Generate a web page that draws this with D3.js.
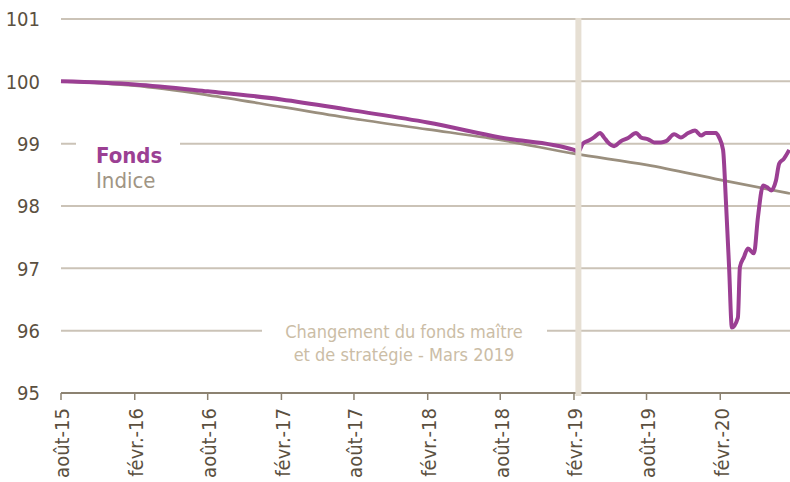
<!DOCTYPE html>
<html>
<head>
<meta charset="utf-8">
<script src="https://cdn.jsdelivr.net/npm/d3@7"></script>
<style>
  body { margin: 0; background: #fff; }
  svg { display: block; font-family: Tahoma, "DejaVu Sans Condensed", "DejaVu Sans", sans-serif; }
</style>
</head>
<body>
<svg id="chart" width="790" height="482"></svg>
<script>
// x axis ticks
const tickDates = ["2015-08-01", "2016-02-01", "2016-08-01", "2017-02-01", "2017-08-01",
  "2018-02-01", "2018-08-01", "2019-02-01", "2019-08-01", "2020-02-01"];
const tickLabels = ["août-15", "févr.-16", "août-16", "févr.-17", "août-17",
  "févr.-18", "août-18", "févr.-19", "août-19", "févr.-20"];
const yTicks = [95, 96, 97, 98, 99, 100, 101];

// Indice
const indiceDates = ["2015-08-01", "2016-02-01", "2016-08-01", "2017-02-01", "2017-08-01",
  "2018-02-01", "2018-08-01", "2019-02-01", "2019-08-01", "2020-02-01", "2020-07-24"];
const indiceValues = [100.00, 99.93, 99.78, 99.59, 99.40, 99.23, 99.06, 98.84, 98.66, 98.42, 98.20];

// Fonds
const fondsDates = ["2015-08-01", "2016-02-01", "2016-08-01", "2017-02-01", "2017-08-01",
  "2018-02-01", "2018-08-01", "2019-02-01", "2019-02-12", "2019-02-23", "2019-03-10",
  "2019-03-23", "2019-04-07", "2019-04-17", "2019-04-27", "2019-05-12", "2019-05-29",
  "2019-06-16", "2019-07-06", "2019-07-18", "2019-08-05", "2019-08-20", "2019-09-06",
  "2019-09-19", "2019-10-09", "2019-10-26", "2019-11-13", "2019-11-30", "2019-12-15",
  "2019-12-27", "2020-01-21", "2020-01-29", "2020-02-08", "2020-02-15", "2020-02-23",
  "2020-03-01", "2020-03-16", "2020-03-21", "2020-03-31", "2020-04-10", "2020-04-25",
  "2020-05-05", "2020-05-18", "2020-05-28", "2020-06-07", "2020-06-19", "2020-06-27",
  "2020-07-09", "2020-07-22"];
const fondsValues = [100.00, 99.95, 99.84, 99.71, 99.53,
  99.34, 99.10, 98.90, 98.87, 99.00, 99.05,
  99.10, 99.17, 99.10, 99.02, 98.96, 99.04,
  99.09, 99.17, 99.10, 99.07, 99.02, 99.02,
  99.04, 99.15, 99.10, 99.17, 99.21, 99.13,
  99.17, 99.17, 99.10, 98.90, 98.09, 97.02,
  96.05, 96.21, 97.02, 97.18, 97.32, 97.24,
  97.82, 98.33, 98.30, 98.25, 98.41, 98.68,
  98.76, 98.90];

const changeDate = "2019-02-12";
const annotation = ["Changement du fonds maître", "et de stratégie - Mars 2019"];

const parse = d3.timeParse("%Y-%m-%d");
const svg = d3.select("#chart");
const margins = { left: 61, right: 0, top: 19, bottom: 89 };
const width = 790 - margins.left - margins.right;
const height = 482 - margins.top - margins.bottom;

const x = d3.scaleTime()
  .domain([parse("2015-08-01"), parse("2020-07-24")])
  .range([margins.left, margins.left + width]);
const y = d3.scaleLinear()
  .domain([95, 101])
  .range([margins.top + height, margins.top]);

const gridColor = "#cbc3b7";
const axisColor = "#8c8271";
const textColor = "#5b503f";

// gridlines
svg.append("g")
  .selectAll("line")
  .data(yTicks.filter((d) => d !== 95))
  .join("line")
  .attr("x1", x.range()[0])
  .attr("x2", x.range()[1])
  .attr("y1", (d) => y(d))
  .attr("y2", (d) => y(d))
  .attr("stroke", gridColor)
  .attr("stroke-width", 2);

// y labels
svg.append("g")
  .selectAll("text")
  .data(yTicks)
  .join("text")
  .attr("x", 40)
  .attr("y", (d) => y(d))
  .attr("dy", "0.36em")
  .attr("text-anchor", "end")
  .attr("fill", textColor)
  .style("font-size", "20px")
  .text((d) => d);

// x axis line + ticks
svg.append("line")
  .attr("x1", x.range()[0])
  .attr("x2", x.range()[1])
  .attr("y1", y(95))
  .attr("y2", y(95))
  .attr("stroke", axisColor)
  .attr("stroke-width", 2);

const xt = svg.append("g")
  .selectAll("g")
  .data(tickDates.map((d, i) => ({ date: parse(d), label: tickLabels[i] })))
  .join("g")
  .attr("transform", (d) => `translate(${x(d.date)},${y(95)})`);
xt.append("line").attr("y2", 7).attr("stroke", axisColor).attr("stroke-width", 1.5);
xt.append("text")
  .attr("transform", "translate(0,15) rotate(-90)")
  .attr("dy", "0.42em")
  .attr("text-anchor", "end")
  .attr("fill", textColor)
  .style("font-size", "20px")
  .text((d) => d.label);

// white boxes behind legend and annotation
svg.append("rect").attr("x", 76).attr("y", 136).attr("width", 104).attr("height", 60).attr("fill", "#fff");
svg.append("rect").attr("x", 262).attr("y", 318).attr("width", 285).attr("height", 50).attr("fill", "#fff");

// lines
const line = d3.line()
  .x((d) => x(d[0]))
  .y((d) => y(d[1]))
  .curve(d3.curveMonotoneX);

svg.append("path")
  .datum(indiceDates.map((d, i) => [parse(d), indiceValues[i]]))
  .attr("fill", "none")
  .attr("stroke", "#9a8f7e")
  .attr("stroke-width", 2.7)
  .attr("d", line);

svg.append("path")
  .datum(fondsDates.map((d, i) => [parse(d), fondsValues[i]]))
  .attr("fill", "none")
  .attr("stroke", "#9b3f93")
  .attr("stroke-width", 4)
  .attr("stroke-linejoin", "round")
  .attr("d", line);

// vertical band
svg.append("rect")
  .attr("x", x(parse(changeDate)) - 3)
  .attr("y", margins.top - 1)
  .attr("width", 6)
  .attr("height", height + 4)
  .attr("fill", "#e6dfd3");

// legend
svg.append("text").attr("x", 96).attr("y", 163)
  .attr("fill", "#9b3f93").style("font-size", "22px").style("font-weight", "bold").text("Fonds");
svg.append("text").attr("x", 96).attr("y", 188)
  .attr("fill", "#a09584").style("font-size", "22px").text("Indice");

// annotation
svg.append("g")
  .selectAll("text")
  .data(annotation)
  .join("text")
  .attr("x", 404)
  .attr("y", (d, i) => 338 + i * 23)
  .attr("text-anchor", "middle")
  .attr("fill", "#cbbda6")
  .style("font-size", "18px")
  .text((d) => d);
</script>
</body>
</html>
